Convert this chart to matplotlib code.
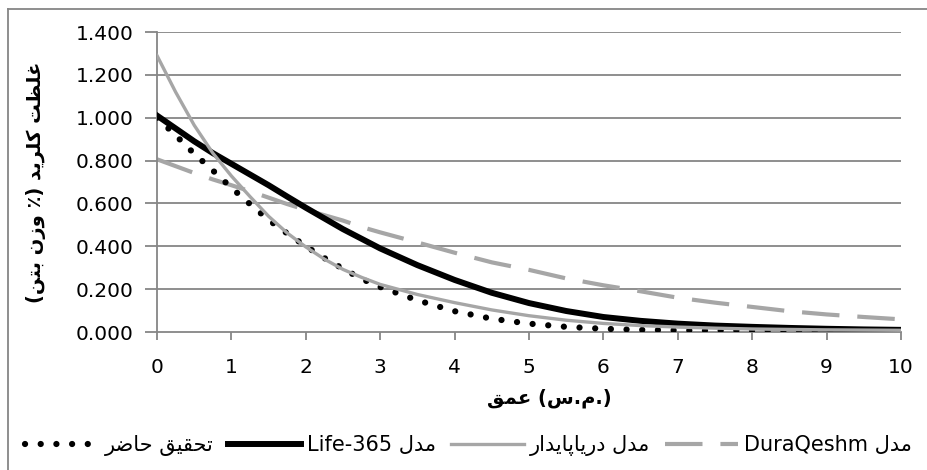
import matplotlib
matplotlib.use("Agg")
import matplotlib.pyplot as plt
from matplotlib.lines import Line2D

# depth (cm) and chloride content (% of concrete weight)
depth = [0, 0.25, 0.5, 0.75, 1, 1.25, 1.5, 1.75, 2, 2.25, 2.5, 2.75, 3,
         3.5, 4, 4.5, 5, 5.5, 6, 6.5, 7, 7.5, 8, 8.5, 9, 9.5, 10]
present_study = [1.0, 0.918, 0.832, 0.754, 0.673, 0.597, 0.523, 0.46, 0.40, 0.345, 0.295, 0.248, 0.21,
                 0.148, 0.097, 0.062, 0.039, 0.024, 0.015, 0.010, 0.008, 0.007, 0.006, 0.005, 0.005, 0.005, 0.005]
life365 = [1.01, 0.95, 0.89, 0.835, 0.785, 0.735, 0.685, 0.632, 0.58, 0.53, 0.48, 0.435, 0.39,
           0.312, 0.243, 0.183, 0.135, 0.098, 0.07, 0.052, 0.039, 0.030, 0.024, 0.019, 0.015, 0.012, 0.010]
daryapaydar = [1.29, 1.12, 0.965, 0.835, 0.728, 0.632, 0.54, 0.462, 0.397, 0.34, 0.292, 0.255, 0.222,
               0.175, 0.137, 0.103, 0.076, 0.055, 0.04, 0.03, 0.023, 0.018, 0.014, 0.012, 0.010, 0.009, 0.008]
duraqeshm = [0.806, 0.774, 0.742, 0.712, 0.685, 0.657, 0.627, 0.597, 0.57, 0.545, 0.52, 0.49, 0.465,
             0.418, 0.37, 0.325, 0.29, 0.25, 0.218, 0.19, 0.16, 0.137, 0.117, 0.097, 0.082, 0.07, 0.059]

yticks = [0, 0.2, 0.4, 0.6, 0.8, 1.0, 1.2, 1.4]
xticks = list(range(0, 11))

ylabel_fa = "غلظت کلرید (٪ وزن بتن)"
labels_fa = ["تحقیق حاضر", "مدل Life-365", "مدل دریاپایدار", "مدل DuraQeshm"]

# minimal persian shaping: (isolated, final, initial, medial)
FORMS = {
    "ا": ("\uFE8D", "\uFE8E", None, None), "د": ("\uFEA9", "\uFEAA", None, None),
    "ر": ("\uFEAD", "\uFEAE", None, None), "ز": ("\uFEAF", "\uFEB0", None, None),
    "و": ("\uFEED", "\uFEEE", None, None),
    "ب": ("\uFE8F", "\uFE90", "\uFE91", "\uFE92"), "پ": ("\uFB56", "\uFB57", "\uFB58", "\uFB59"),
    "ت": ("\uFE95", "\uFE96", "\uFE97", "\uFE98"), "ح": ("\uFEA1", "\uFEA2", "\uFEA3", "\uFEA4"),
    "س": ("\uFEB1", "\uFEB2", "\uFEB3", "\uFEB4"), "ض": ("\uFEBD", "\uFEBE", "\uFEBF", "\uFEC0"),
    "ظ": ("\uFEC5", "\uFEC6", "\uFEC7", "\uFEC8"), "ع": ("\uFEC9", "\uFECA", "\uFECB", "\uFECC"),
    "غ": ("\uFECD", "\uFECE", "\uFECF", "\uFED0"), "ق": ("\uFED5", "\uFED6", "\uFED7", "\uFED8"),
    "ک": ("\uFB8E", "\uFB8F", "\uFB90", "\uFB91"), "ل": ("\uFEDD", "\uFEDE", "\uFEDF", "\uFEE0"),
    "م": ("\uFEE1", "\uFEE2", "\uFEE3", "\uFEE4"), "ن": ("\uFEE5", "\uFEE6", "\uFEE7", "\uFEE8"),
    "ی": ("\uFBFC", "\uFBFD", "\uFBFE", "\uFBFF"),
}
MIRROR = {"(": ")", ")": "("}


def shape_word(w):
    out = []
    for i, c in enumerate(w):
        if c not in FORMS:
            out.append(MIRROR.get(c, c))
            continue
        f = FORMS[c]
        prev = w[i - 1] if i > 0 else ""
        nxt = w[i + 1] if i + 1 < len(w) else ""
        jp = prev in FORMS and FORMS[prev][2] is not None
        jn = f[2] is not None and nxt in FORMS
        if jp and jn:
            out.append(f[3])
        elif jp:
            out.append(f[1])
        elif jn:
            out.append(f[2])
        else:
            out.append(f[0])
    return "".join(reversed(out))


def fa(s):
    words = []
    for w in s.split(" "):
        if any(c.isascii() and c.isalpha() for c in w):
            words.append(w)
        else:
            words.append(shape_word(w))
    return " ".join(reversed(words))


plt.rcParams["font.family"] = ["DejaVu Sans"]
grid_c = "#868686"
gray = "#A6A6A6"

fig = plt.figure(figsize=(9.28, 4.70), dpi=100)
# chart area border (only left and top edges are inside the picture)
bx, by = 8.5 / 928, 1 - 8.5 / 470
fig.add_artist(Line2D([bx, bx], [0, by], transform=fig.transFigure, color=grid_c, lw=1.3))
fig.add_artist(Line2D([bx, 1], [by, by], transform=fig.transFigure, color=grid_c, lw=1.3))

ax = fig.add_axes([157 / 928, 1 - 332 / 470, 744 / 928, 300 / 470])

# horizontal gridlines
for v in yticks[1:]:
    ax.axhline(v, color=grid_c, lw=1.3, zorder=1)

l1, = ax.plot(depth, present_study, color="black", lw=4.5,
              linestyle=(0, (0.01, 2.5)), dash_capstyle="round", zorder=3)
l2, = ax.plot(depth, life365, color="black", lw=4.3, zorder=4)
l3, = ax.plot(depth, daryapaydar, color=gray, lw=2.4, zorder=5)
l4, = ax.plot(depth, duraqeshm, color=gray, lw=3.0, linestyle=(0, (9, 4.3)), zorder=2)

ax.set_xlim(0, 10)
ax.set_ylim(0, 1.4)
ax.set_yticks(yticks)
ax.set_yticklabels([f"{v:.3f}" for v in yticks])
ax.set_xticks(xticks)
for s in ["top", "right"]:
    ax.spines[s].set_visible(False)
for s in ["left", "bottom"]:
    ax.spines[s].set_color(grid_c)
    ax.spines[s].set_linewidth(1.3)
ax.tick_params(axis="y", length=9, width=1.3, color=grid_c, pad=8, labelsize=14.5)
ax.tick_params(axis="x", length=6, width=1.3, color=grid_c, pad=13, labelsize=14.5)

ax.set_ylabel(fa(ylabel_fa), fontsize=14, fontweight="bold")
ax.yaxis.set_label_coords(-0.162, 0.5)
ax.yaxis.label.set_va("center")
xlab = fa("عمق") + " (" + fa("س") + "." + fa("م") + ".)"
ax.set_xlabel(xlab, fontsize=14, fontweight="bold")
ax.xaxis.set_label_coords(0.527, -0.22)
ax.xaxis.label.set_va("center")

fig.legend([l1, l2, l3, l4], [fa(t) for t in labels_fa], loc="center",
           bbox_to_anchor=(0.505, 1 - 446 / 470), ncol=4, frameon=False,
           fontsize=15, handlelength=3.5, columnspacing=0.7, handletextpad=0.3,
           borderpad=0, borderaxespad=0)

fig.savefig("out.png", dpi=100)
